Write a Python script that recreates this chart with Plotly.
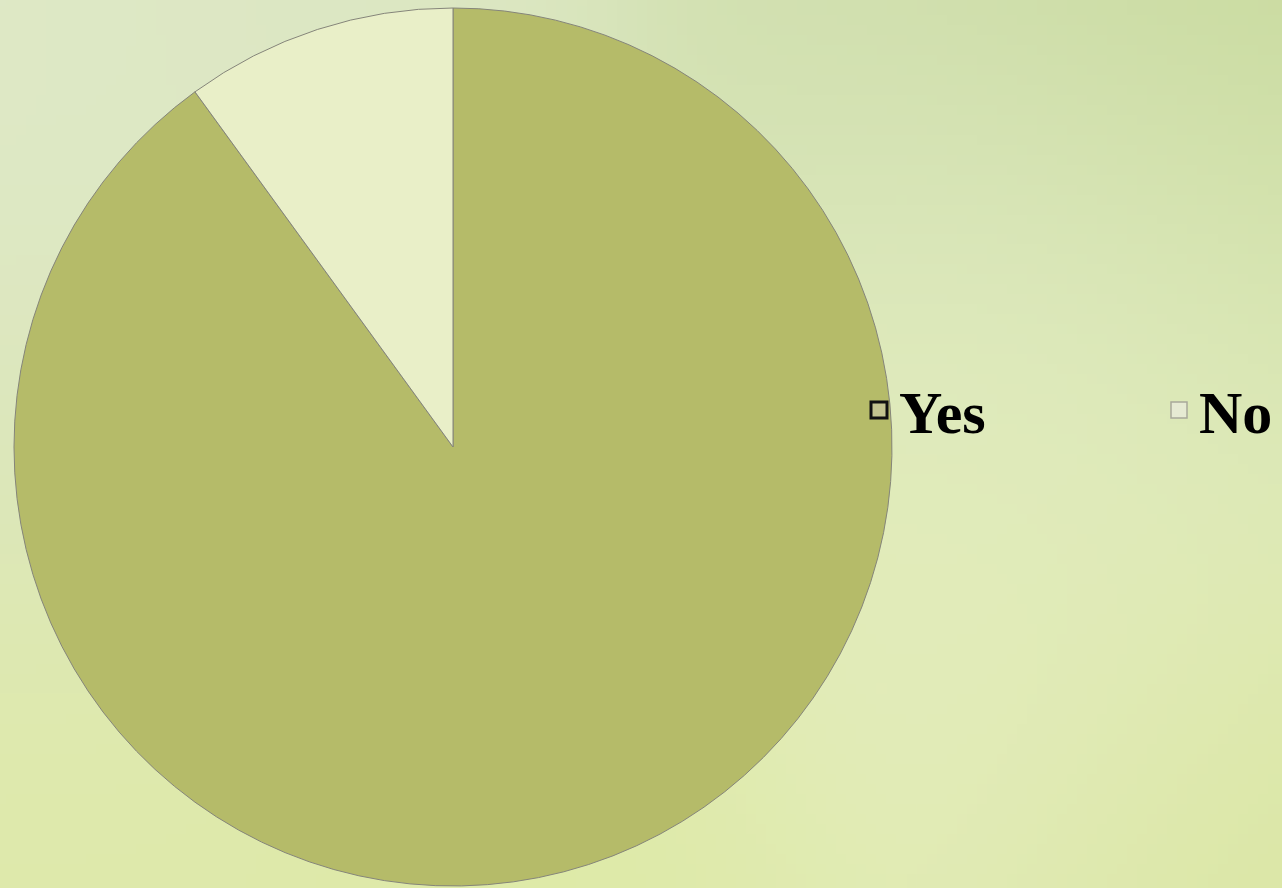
import base64
import struct
import zlib

import numpy as np
import plotly.graph_objects as go

# ---- data ----
labels = ["Yes", "No"]
values = [90, 10]

# ---- styling ----
slice_colors = ["#b5bb69", "#e9efc8"]
legend_fill = ["#c3c48f", "#e6ead3"]
legend_line = ["#111111", "#a8a89a"]
legend_line_w = [3, 1.5]
legend_names = ["legend", "legend2"]
legend_x = [859, 1159]

W, H = 1282, 888


def make_background():
    # soft blotchy green backdrop, built as a small PNG and stretched
    w, h = 128, 89
    yy, xx = np.mgrid[0:h, 0:w]
    xx = xx / (w - 1) * W
    yy = yy / (h - 1) * H
    anchors = [
        (80, 120, (0xdf, 0xe9, 0xc8)),
        (300, 40, (0xdc, 0xe7, 0xc2)),
        (950, 100, (0xd0, 0xdf, 0xae)),
        (1200, 40, (0xc3, 0xd6, 0x98)),
        (1250, 200, (0xd2, 0xe2, 0xa8)),
        (1060, 290, (0xe6, 0xef, 0xd2)),
        (1180, 430, (0xde, 0xea, 0xb6)),
        (960, 480, (0xe0, 0xeb, 0xb4)),
        (1000, 700, (0xe6, 0xee, 0xc2)),
        (1200, 820, (0xda, 0xe6, 0xa2)),
        (40, 450, (0xdc, 0xe7, 0xbb)),
        (60, 800, (0xdf, 0xea, 0xab)),
        (600, 870, (0xde, 0xea, 0xa8)),
    ]
    acc = np.zeros((h, w, 3))
    wsum = np.zeros((h, w))
    for ax, ay, col in anchors:
        d2 = (xx - ax) ** 2 + (yy - ay) ** 2
        wt = np.exp(-d2 / (2 * 180.0 ** 2)) + 1e-9
        acc += wt[..., None] * np.array(col, float)
        wsum += wt
    img = np.clip(acc / wsum[..., None], 0, 255).astype(np.uint8)
    raw = b"".join(b"\x00" + img[r].tobytes() for r in range(h))

    def chunk(tag, data):
        c = struct.pack(">I", len(data)) + tag + data
        return c + struct.pack(">I", zlib.crc32(tag + data) & 0xFFFFFFFF)

    png = b"\x89PNG\r\n\x1a\n"
    png += chunk(b"IHDR", struct.pack(">IIBBBBB", w, h, 8, 2, 0, 0, 0))
    png += chunk(b"IDAT", zlib.compress(raw, 9))
    png += chunk(b"IEND", b"")
    return "data:image/png;base64," + base64.b64encode(png).decode()


fig = go.Figure()
fig.add_trace(go.Pie(
    labels=labels, values=values, sort=False, direction="clockwise", rotation=0,
    marker=dict(colors=slice_colors, line=dict(color="#85857a", width=1)),
    textinfo="none", hoverinfo="label+percent", showlegend=False,
    domain=dict(x=[14 / W, 892 / W], y=[2 / H, 880 / H]),
))
for i, lab in enumerate(labels):
    fig.add_trace(go.Scatter(
        x=[None], y=[None], mode="markers", name=lab, legend=legend_names[i],
        marker=dict(symbol="square", size=16, color=legend_fill[i],
                    line=dict(color=legend_line[i], width=legend_line_w[i])),
    ))

leg_common = dict(orientation="h", xanchor="left", y=1 - 410 / H, yanchor="middle",
                  itemwidth=30, bgcolor="rgba(0,0,0,0)",
                  font=dict(family="Liberation Serif", size=60, color="#000000", weight="bold"))

fig.update_layout(
    width=W, height=H,
    margin=dict(l=0, r=0, t=0, b=0),
    paper_bgcolor="#dde7b8", plot_bgcolor="rgba(0,0,0,0)",
    xaxis=dict(visible=False), yaxis=dict(visible=False),
    legend=dict(x=legend_x[0] / W, **leg_common),
    legend2=dict(x=legend_x[1] / W, **leg_common),
    images=[dict(source=make_background(), xref="paper", yref="paper", x=0, y=1,
                 sizex=1, sizey=1, sizing="stretch", layer="below",
                 xanchor="left", yanchor="top")],
)
fig.write_html("out.html", config={"displayModeBar": False},
               post_script="document.body.style.margin='0';")
